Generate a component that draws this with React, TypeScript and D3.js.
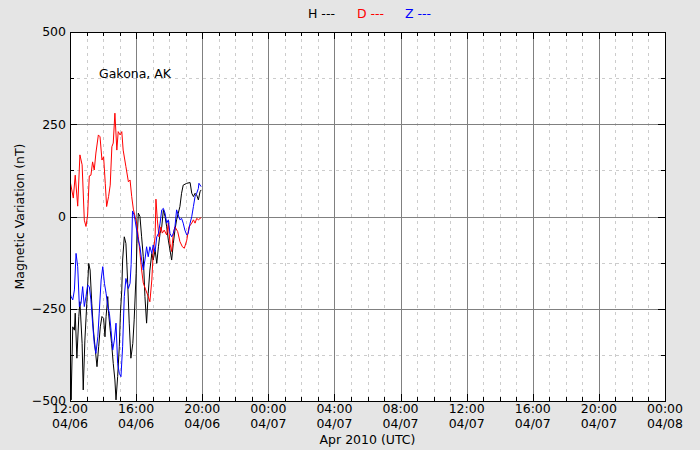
import React from 'react';
import * as d3 from 'd3';

// minutes after 12:00 UTC on 04/06, values in nT
const startUtc = Date.UTC(2010, 3, 6, 12);
const endUtc = Date.UTC(2010, 3, 8, 0);

const hMinutes = [0, 4, 10, 16, 19, 25, 32, 36, 44, 48, 54, 61, 68, 73, 79, 85, 92, 98, 104, 110, 116, 122, 127, 131, 137, 140, 146, 151, 157, 163, 167, 173, 179, 183, 188, 191, 197, 203, 209, 215, 221, 228, 233, 240, 243, 248, 254, 260, 266, 272, 278, 284, 290, 297, 302, 309, 315, 321, 327, 333, 339, 345, 351, 357, 363, 369, 375, 381, 387, 393, 399, 405, 411, 424, 436, 442, 448, 454, 460, 466, 472, 476];
const hValues = [-300, -497, -299, -308, -262, -384, -271, -231, -344, -470, -335, -235, -127, -145, -235, -308, -362, -407, -353, -299, -271, -276, -326, -271, -217, -262, -308, -344, -398, -443, -497, -434, -353, -262, -199, -118, -55, -73, -172, -289, -384, -344, -280, -154, -73, 9, 0, -55, -109, -217, -289, -208, -145, -100, -118, -91, -127, -82, -46, -28, 18, 0, -28, -64, -91, -118, -73, -37, -9, 9, 27, 63, 85, 90, 92, 63, 54, 63, 58, 45, 67, 72];

const dMinutes = [1, 12, 19, 28, 36, 44, 52, 58, 64, 70, 76, 82, 88, 94, 103, 109, 116, 122, 128, 133, 140, 146, 152, 157, 163, 170, 175, 182, 188, 193, 203, 212, 218, 224, 230, 236, 242, 248, 254, 260, 266, 275, 284, 290, 297, 302, 309, 312, 317, 323, 330, 335, 342, 351, 357, 363, 369, 375, 381, 391, 399, 408, 415, 424, 432, 442, 448, 454, 460, 466, 476];
const dValues = [94, 50, 112, 28, 167, 140, -10, -27, 4, 110, 112, 148, 126, 172, 221, 216, 153, 162, 90, 27, 54, 85, 189, 199, 280, 180, 230, 221, 230, 180, 135, 94, 99, 54, 20, 0, -18, -55, -99, -145, -180, -199, -217, -231, -172, -99, -55, 47, -9, -55, -28, -45, -37, -50, -18, -73, -95, -46, -28, -41, -68, -82, -86, -64, -28, -18, -9, -18, -5, -9, -3];

const zMinutes = [1, 4, 10, 16, 22, 28, 34, 40, 46, 52, 58, 64, 70, 76, 82, 88, 94, 101, 106, 113, 119, 125, 131, 137, 143, 149, 155, 161, 167, 173, 179, 185, 191, 197, 203, 212, 218, 222, 227, 232, 236, 242, 248, 254, 260, 266, 272, 278, 284, 290, 297, 302, 309, 315, 321, 327, 333, 339, 345, 351, 357, 363, 369, 375, 381, 387, 393, 399, 405, 411, 417, 424, 429, 436, 442, 448, 454, 460, 466, 468, 476];
const zValues = [-210, -217, -226, -199, -100, -136, -244, -235, -190, -244, -217, -186, -190, -226, -289, -344, -371, -326, -262, -172, -136, -181, -208, -244, -262, -308, -362, -335, -289, -398, -425, -434, -353, -217, -168, -195, -181, -130, 15, 5, -9, -37, -64, -82, -118, -145, -118, -82, -109, -82, -100, -77, -95, -55, -46, -18, 18, 22, 9, -18, -9, -46, -55, -46, -28, 18, 4, -9, -5, -18, -37, -50, -46, -18, 0, 27, 54, 63, 76, 90, 81];

const yMajor = [500, 250, 0, -250, -500];
const yMinor = [375, 125, -125, -375];
const legendItems = [
  { label: 'H ---', color: '#000000', x: 308 },
  { label: 'D ---', color: '#ff0000', x: 357 },
  { label: 'Z ---', color: '#0000ff', x: 405 },
];

const series = [
  { minutes: hMinutes, values: hValues, color: '#000000' },
  { minutes: dMinutes, values: dValues, color: '#ff0000' },
  { minutes: zMinutes, values: zValues, color: '#0000ff' },
];

const W = 700, H = 450;
const left = 70, right = 665, top = 32, bottom = 401;
const font = '"DejaVu Sans", sans-serif';
const fs = 12.5;

export default function App() {
  const x = d3.scaleUtc().domain([new Date(startUtc), new Date(endUtc)]).range([left, right]);
  const y = d3.scaleLinear().domain([-500, 500]).range([bottom, top]);
  const majorTimes = x.ticks(d3.utcHour.every(4)!);
  const minorTimes = x.ticks(d3.utcHour.every(1)!).filter(t => t.getUTCHours() % 4 !== 0);
  const fmtTime = d3.utcFormat('%H:%M');
  const fmtDay = d3.utcFormat('%m/%d');
  const fmtY = d3.format('d');

  const line = d3.line<[number, number]>()
    .x(d => x(new Date(startUtc + d[0] * 60000)))
    .y(d => y(d[1]));

  const px = (v: number) => Math.round(v) + 0.5;

  return (
    <svg width={W} height={H} style={{ position: 'absolute', left: 0, top: 0 }} fontFamily={font}>
      <rect x={0} y={0} width={W} height={H} fill="#e5e5e5" />
      <rect x={left} y={top} width={right - left} height={bottom - top} fill="#ffffff" />
      <defs>
        <clipPath id="plotclip">
          <rect x={left} y={top} width={right - left} height={bottom - top} />
        </clipPath>
      </defs>
      {/* minor grid */}
      {minorTimes.map((t, i) => (
        <line key={'mx' + i} x1={px(x(t))} x2={px(x(t))} y1={top} y2={bottom} stroke="#cccccc" strokeDasharray="3,4" />
      ))}
      {yMinor.map((v, i) => (
        <line key={'my' + i} x1={left} x2={right} y1={px(y(v))} y2={px(y(v))} stroke="#cccccc" strokeDasharray="3,4" />
      ))}
      {/* major grid */}
      {majorTimes.map((t, i) => (
        <line key={'gx' + i} x1={px(x(t))} x2={px(x(t))} y1={top} y2={bottom} stroke="#808080" />
      ))}
      {yMajor.map((v, i) => (
        <line key={'gy' + i} x1={left} x2={right} y1={px(y(v))} y2={px(y(v))} stroke="#808080" />
      ))}
      {/* data */}
      <g clipPath="url(#plotclip)">
        {series.map((s, i) => (
          <path key={'s' + i}
            d={line(s.minutes.map((m, j) => [m, s.values[j]] as [number, number])) || ''}
            fill="none" stroke={s.color} strokeWidth={1} strokeLinejoin="round" />
        ))}
      </g>
      {/* ticks */}
      {majorTimes.map((t, i) => (
        <g key={'tx' + i}>
          <line x1={px(x(t))} x2={px(x(t))} y1={top} y2={top + 7} stroke="#000" />
          <line x1={px(x(t))} x2={px(x(t))} y1={bottom} y2={bottom - 7} stroke="#000" />
        </g>
      ))}
      {minorTimes.map((t, i) => (
        <g key={'tmx' + i}>
          <line x1={px(x(t))} x2={px(x(t))} y1={top} y2={top + 4} stroke="#000" />
          <line x1={px(x(t))} x2={px(x(t))} y1={bottom} y2={bottom - 4} stroke="#000" />
        </g>
      ))}
      {yMajor.map((v, i) => (
        <g key={'ty' + i}>
          <line x1={left} x2={left + 7} y1={px(y(v))} y2={px(y(v))} stroke="#000" />
          <line x1={right} x2={right - 7} y1={px(y(v))} y2={px(y(v))} stroke="#000" />
        </g>
      ))}
      {yMinor.map((v, i) => (
        <g key={'tmy' + i}>
          <line x1={left} x2={left + 4} y1={px(y(v))} y2={px(y(v))} stroke="#000" />
          <line x1={right} x2={right - 4} y1={px(y(v))} y2={px(y(v))} stroke="#000" />
        </g>
      ))}
      <rect x={left + 0.5} y={top + 0.5} width={right - left} height={bottom - top} fill="none" stroke="#000" strokeWidth={1} />
      {/* tick labels */}
      {yMajor.map((v, i) => (
        <text key={'ly' + i} x={left - 4} y={y(v)} dy="0.35em" textAnchor="end" fontSize={fs} fill="#000">{fmtY(v)}</text>
      ))}
      {majorTimes.map((t, i) => (
        <text key={'lx' + i} x={x(t)} textAnchor="middle" fontSize={fs} fill="#000">
          <tspan x={x(t)} y={413}>{fmtTime(t)}</tspan>
          <tspan x={x(t)} y={428}>{fmtDay(t)}</tspan>
        </text>
      ))}
      <text x={(left + right) / 2} y={444} textAnchor="middle" fontSize={fs} fill="#000">Apr 2010 (UTC)</text>
      <text transform={`translate(24,${(top + bottom) / 2}) rotate(-90)`} textAnchor="middle" fontSize={fs} fill="#000">Magnetic Variation (nT)</text>
      <text x={99} y={78} fontSize={fs} fill="#000">Gakona, AK</text>
      {legendItems.map(it => (
        <text key={it.label} x={it.x} y={18} fontSize={fs} fill={it.color}>{it.label}</text>
      ))}
    </svg>
  );
}
